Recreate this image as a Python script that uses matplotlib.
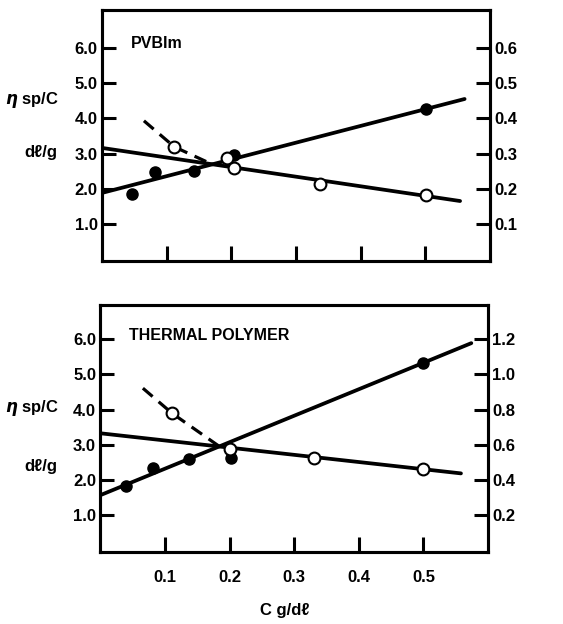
import numpy as np
import matplotlib
matplotlib.use('Agg')
import matplotlib.pyplot as plt

plt.rcParams['font.family'] = ['Liberation Sans', 'DejaVu Sans']
plt.rcParams['font.weight'] = 'bold'
plt.rcParams['mathtext.fontset'] = 'dejavusans'

# PVBIm panel
pv_conc_solid = [0.047, 0.082, 0.143, 0.205, 0.502]
pv_visc_solid = [1.85, 2.48, 2.51, 2.96, 4.27]
pv_conc_open = [0.112, 0.194, 0.204, 0.338, 0.502]
pv_visc_open = [3.19, 2.87, 2.59, 2.14, 1.82]
pv_rise_x = [0.0, 0.561]
pv_rise_y = [1.88, 4.55]
pv_fall_x = [0.0, 0.554]
pv_fall_y = [3.16, 1.65]
pv_dash_x = [0.065, 0.112, 0.171]
pv_dash_y = [3.93, 3.19, 2.69]

# thermal polymer panel
th_conc_solid = [0.040, 0.081, 0.138, 0.203, 0.499]
th_visc_solid = [1.82, 2.34, 2.59, 2.62, 5.32]
th_conc_open = [0.111, 0.200, 0.330, 0.499]
th_visc_open = [3.90, 2.87, 2.62, 2.31]
th_rise_x = [0.0, 0.574]
th_rise_y = [1.57, 5.89]
th_fall_x = [0.0, 0.558]
th_fall_y = [3.33, 2.19]
th_dash_x = [0.066, 0.111, 0.184]
th_dash_y = [4.61, 3.90, 2.96]

x_ticks = [0.1, 0.2, 0.3, 0.4, 0.5]
left_ticks = [1.0, 2.0, 3.0, 4.0, 5.0, 6.0]
right_ticks_top = [0.1, 0.2, 0.3, 0.4, 0.5, 0.6]
right_ticks_bot = [0.2, 0.4, 0.6, 0.8, 1.0, 1.2]

fig = plt.figure(figsize=(5.63, 6.24), dpi=100)
ax1 = fig.add_axes([0.181, 0.582, 0.689, 0.402])
ax2 = fig.add_axes([0.178, 0.115, 0.689, 0.396])


def draw_panel(ax, cs, vs, co, vo, rx, ry, fx, fy, dx, dy, rticks, scale, title, ylim, xlabels):
    ax.plot(rx, ry, color='black', lw=2.7, solid_capstyle='round', zorder=2)
    ax.plot(fx, fy, color='black', lw=2.7, solid_capstyle='round', zorder=2)
    ax.plot(dx, dy, color='black', lw=2.3, ls=(0, (4, 2.5)), zorder=2)
    ax.plot(cs, vs, 'o', color='black', markersize=8, zorder=3)
    ax.plot(co, vo, 'o', color='black', markerfacecolor='white', markeredgewidth=1.5,
            markersize=8.5, zorder=4)
    ax.set_xlim(0, 0.6)
    ax.set_ylim(*ylim)
    ax.set_xticks(x_ticks)
    if xlabels:
        ax.set_xticklabels(['%.1f' % t for t in x_ticks])
    else:
        ax.set_xticklabels([])
    ax.set_yticks(left_ticks)
    ax.set_yticklabels(['%.1f' % t for t in left_ticks])
    ax.tick_params(axis='x', direction='in', length=11, width=2.2, pad=13, labelsize=12)
    ax.tick_params(axis='y', direction='in', length=10, width=2.2, pad=3, labelsize=12)
    for s in ax.spines.values():
        s.set_linewidth(2.2)
    ax.text(0.045, 6.12, title, fontsize=11.5, va='center', ha='left')

    r = ax.twinx()
    r.set_ylim(ylim[0] * scale, ylim[1] * scale)
    r.set_yticks(rticks)
    r.set_yticklabels(['%.1f' % t for t in rticks])
    r.tick_params(axis='y', direction='in', length=10, width=2.2, pad=3, labelsize=12)
    for s in r.spines.values():
        s.set_linewidth(2.2)


draw_panel(ax1, pv_conc_solid, pv_visc_solid, pv_conc_open, pv_visc_open,
           pv_rise_x, pv_rise_y, pv_fall_x, pv_fall_y, pv_dash_x, pv_dash_y,
           right_ticks_top, 0.1, 'PVBIm', (-0.05, 7.08), False)
draw_panel(ax2, th_conc_solid, th_visc_solid, th_conc_open, th_visc_open,
           th_rise_x, th_rise_y, th_fall_x, th_fall_y, th_dash_x, th_dash_y,
           right_ticks_bot, 0.2, 'THERMAL POLYMER', (-0.05, 6.97), True)

for yt, yb in [(0.840, 0.756), (0.346, 0.252)]:
    fig.text(0.104, yt, r'$\eta$ sp/C', fontsize=12, ha='right', va='center')
    fig.text(0.102, yb, 'd\u2113/g', fontsize=12, ha='right', va='center')

fig.text(0.506, 0.022, 'C g/d\u2113', fontsize=12, ha='center', va='center')

plt.savefig('out.png', dpi=100)
